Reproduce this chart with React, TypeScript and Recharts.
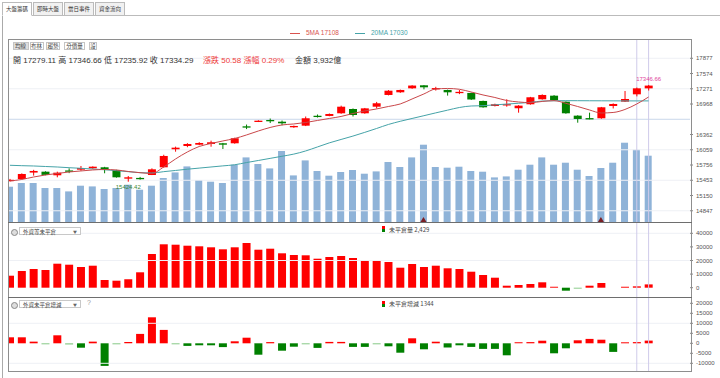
import React from "react";
import { Bar, Cell, ComposedChart, Line, ReferenceLine, XAxis, YAxis } from "recharts";

// daily index candles (visible window), 3 empty slots on the right
const opens = [15440, 15478, 15606, 15624, 15552, 15648, 15664, 15691, 15711, 15657, 15485, 15500, 15558, 15711, 16069, 16134, 16160, 16174, 16188, 16188, 16525, 16617, 16651, 16617, 16506, 16538, 16735, 16731, 16784, 16869, 16784, 16915, 17148, 17201, 17280, 17340, 17275, 17247, 17185, 17188, 17029, 16929, 16945, 16884, 16963, 17062, 17134, 17015, 16737, 16688, 16685, 16929, 17015, 17161, 17279.11];
const highs = [15480, 15590, 15660, 15632, 15624, 15690, 15737, 15730, 15720, 15662, 15538, 15520, 15690, 15960, 16121, 16190, 16210, 16240, 16195, 16300, 16560, 16645, 16680, 16640, 16540, 16720, 16760, 16780, 16935, 16880, 16890, 17010, 17245, 17255, 17342, 17345, 17310, 17255, 17245, 17195, 17035, 16975, 17062, 16945, 17110, 17160, 17145, 17020, 16745, 16796, 16910, 16980, 17227, 17295, 17346.66];
const lows = [15430, 15470, 15545, 15552, 15512, 15595, 15640, 15680, 15592, 15505, 15424.42, 15465, 15556, 15705, 16021, 16110, 16150, 16120, 16075, 16180, 16470, 16610, 16590, 16545, 16495, 16530, 16700, 16725, 16775, 16720, 16775, 16880, 17140, 17190, 17270, 17260, 17235, 17135, 17165, 17050, 16895, 16920, 16915, 16796, 16955, 17055, 17030, 16775, 16597, 16665, 16675, 16880, 17010, 17120, 17235.92];
const closes = [15462, 15578, 15638, 15560, 15604, 15640, 15697, 15723, 15657, 15512, 15512, 15490, 15671, 15936, 16101, 16174, 16194, 16208, 16160, 16288, 16512, 16637, 16631, 16585, 16532, 16685, 16728, 16770, 16915, 16750, 16882, 16983, 17233, 17247, 17335, 17300, 17285, 17201, 17210, 17058, 16903, 16963, 16965, 16936, 17102, 17148, 17048, 16784, 16671, 16682, 16903, 16969, 17068, 17280, 17334.29];
const ma5 = [15439, 15469, 15518, 15558, 15588, 15618, 15638, 15658, 15667, 15658, 15628, 15604, 15588, 15717, 15876, 16015, 16124, 16184, 16234, 16283, 16353, 16432, 16502, 16552, 16572, 16601, 16641, 16681, 16721, 16780, 16830, 16870, 16919, 16969, 17068, 17168, 17267, 17277, 17261, 17207, 17148, 17098, 17038, 17009, 16995, 17019, 17035, 16983, 16919, 16850, 16790, 16800, 16860, 16969, 17108];
const ma20 = [15751, 15743, 15737, 15727, 15717, 15703, 15691, 15677, 15663, 15644, 15624, 15604, 15598, 15624, 15648, 15673, 15695, 15717, 15739, 15761, 15805, 15846, 15888, 15930, 15973, 16035, 16115, 16196, 16264, 16331, 16405, 16482, 16562, 16625, 16681, 16736, 16792, 16846, 16899, 16929, 16935, 16951, 16967, 16983, 17001, 17027, 17033, 17035, 17034, 17033, 17032, 17031, 17030, 17030, 17030];
// 成交金額 (億)
const amount = [2093, 2313, 2313, 2016, 2016, 1815, 2153, 2111, 1957, 2016, 2212, 1915, 2153, 2609, 2941, 3297, 2491, 2390, 2313, 3398, 3831, 3439, 3178, 4210, 2763, 3653, 3024, 2746, 2965, 3084, 2864, 3001, 3558, 3262, 3831, 4584, 3262, 3220, 3279, 3024, 2983, 2645, 2704, 3101, 3398, 3831, 3398, 3516, 3101, 2728, 3202, 3516, 4702, 4287, 3932];
// 外資未平倉量 / 增減
const openInterest = [8824, 12279, 13750, 13015, 17647, 16912, 15221, 16176, 5662, 5147, 6176, 11324, 24779, 31912, 31618, 30882, 30441, 29706, 28235, 29706, 32868, 27941, 28676, 25294, 24044, 23824, 21324, 22574, 23309, 21838, 20368, 19853, 18897, 14706, 17426, 15221, 16176, 14265, 13750, 11765, 9338, 7353, 1471, 1985, 2721, 3971, 700, -2200, -700, 1471, 3456, 0, 700, 1000, 2429];
const oiChange = [3000, 3000, 830, -500, 4000, -600, -2200, 830, -11300, -500, 600, 4700, 13000, 6700, -500, -1300, -1000, -1000, -1900, 1000, 2800, -5700, 600, -3700, -1700, -500, -2300, 700, 700, -1800, -1800, -500, -1500, -4700, 2500, -3000, 800, -2100, -1000, -1800, -2800, -2800, -6000, 500, 600, 1300, -5000, -2500, 1500, 2200, 1800, -4300, 500, 600, 1344];
const signalDays = [35, 50];
const blankSlots = 3;

const priceTicks = [14847, 15150, 15453, 15756, 16059, 16362, 16968, 17271, 17574, 17877];
const priceGrid = [14847, 15453, 16059, 17271, 17877];
const priceLevel = 16665;
const oiTicks = [0, 10000, 20000, 30000, 40000];
const chgTicks = [-10000, -5000, 0, 5000, 10000, 15000, 20000];
const markedDays = [53, 54];

const rows = Array.from({ length: closes.length + blankSlots }, (_, i) => ({
  i,
  o: opens[i],
  h: highs[i],
  l: lows[i],
  c: closes[i],
  ma5: ma5[i],
  ma20: ma20[i],
  amt: amount[i],
  oi: openInterest[i],
  chg: oiChange[i],
  sig: signalDays.includes(i),
}));

const hiIdx = highs.indexOf(Math.max(...highs));
const loIdx = lows.indexOf(Math.min(...lows));

const RED = "#ff0000";
const GREEN = "#008000";
const PALE_GREEN = "#86c986";
const VOL = "#8fb3d8";
const MARK = "#cfcbea";
const FONT = '"Liberation Sans", "Noto Sans CJK TC", sans-serif';
const CJK = '"Noto Sans CJK TC", sans-serif';

const CW = 716;
const axisTick = { fontSize: 6, fill: "#555", fontFamily: FONT };

function barColor(v: number) {
  if (v >= 0) return RED;
  return v > -800 ? PALE_GREEN : GREEN;
}

function Candle(props: any) {
  const { x, y, width, height, payload } = props;
  if (!payload || payload.h == null) return <g />;
  const { o, h, l, c } = payload;
  const top = Math.min(y, y + height);
  const span = Math.abs(height);
  const k = h > l ? span / (h - l) : 0;
  const color = c >= o ? RED : GREEN;
  const bTop = top + (h - Math.max(o, c)) * k;
  const bH = Math.max(Math.abs(o - c) * k, 1.3);
  const cx = x + width / 2;
  return (
    <g>
      <line x1={cx} x2={cx} y1={top} y2={top + span} stroke={color} strokeWidth={1} />
      <rect x={x} y={bTop} width={width} height={bH} fill={color} />
      {payload.i === hiIdx && (
        <text x={cx} y={top - 4} textAnchor="middle" fontSize={6} fill="#e0459c" fontFamily={FONT}>
          {h.toFixed(2)}
        </text>
      )}
      {payload.i === loIdx && (
        <text x={cx} y={top + span + 7} textAnchor="middle" fontSize={6} fill="#3a8a3a" fontFamily={FONT}>
          {l.toFixed(2)}
        </text>
      )}
    </g>
  );
}

function AmountBar(props: any) {
  const { x, y, width, height, payload } = props;
  const cx = x + width / 2;
  const base = y + height;
  return (
    <g>
      <rect x={x} y={y} width={width} height={height} fill={VOL} />
      {payload && payload.sig && <path d={`M${cx - 3},${base} L${cx + 3},${base} L${cx},${base - 5} Z`} fill="#7a1f24" />}
    </g>
  );
}

function Dropdown({ top, text, help }: { top: number; text: string; help?: boolean }) {
  return (
    <>
      <div style={{ position: "absolute", left: 11, top: top + 1.5, width: 5, height: 5, borderRadius: 4, border: "1px solid #888", background: "#ddd" }} />
      <div style={{ position: "absolute", left: 19, top, width: 62, height: 8, border: "1px solid #c8c8c8", background: "#fff", fontFamily: CJK, fontSize: 5.5, lineHeight: "8px", color: "#444", paddingLeft: 3, boxSizing: "border-box" }}>
        {text}
        <span style={{ position: "absolute", right: 3, top: 0, fontSize: 4, color: "#666" }}>▼</span>
      </div>
      {help && <div style={{ position: "absolute", left: 87, top: top - 1, fontFamily: FONT, fontSize: 7, color: "#999" }}>?</div>}
    </>
  );
}

function PanelLegend({ top, text }: { top: number; text: string }) {
  return (
    <>
      <div style={{ position: "absolute", left: 382, top, width: 3, height: 3, background: RED }} />
      <div style={{ position: "absolute", left: 382, top: top + 3, width: 3, height: 3, background: GREEN }} />
      <div style={{ position: "absolute", left: 389, top: top - 1.5, fontFamily: CJK, fontSize: 6, color: "#444", whiteSpace: "nowrap" }}>{text}</div>
    </>
  );
}

const tabs = ["大盤籌碼", "即時大盤", "當日事件", "資金流向"];
const buttons = [
  { t: "均線", l: 12.5, w: 16 },
  { t: "布林", l: 29.5, w: 14 },
  { t: "趨勢", l: 46, w: 14 },
  { t: "分價量", l: 64, w: 21 },
  { t: "設", l: 89, w: 8 },
];

export default function App() {
  const chartBox = (top: number, h: number, child: React.ReactNode) => (
    <div style={{ position: "absolute", left: 9, top, width: 711, height: h, overflow: "hidden" }}>
      <div style={{ position: "absolute", left: -5, top: 0 }}>{child}</div>
    </div>
  );

  return (
    <div style={{ position: "absolute", left: 0, top: 0, width: 720, height: 378, background: "#fff", overflow: "hidden", fontFamily: FONT }}>
      {/* tabs */}
      {tabs.map((t, k) => (
        <div
          key={t}
          style={{
            position: "absolute",
            left: 2 + k * 31,
            top: 2,
            width: 30,
            height: 14,
            boxSizing: "border-box",
            border: "1px solid #bbb",
            borderBottom: k === 0 ? "1px solid #fff" : "1px solid #bbb",
            background: k === 0 ? "#fff" : "#f1f1f1",
            fontFamily: CJK,
            fontSize: 5.5,
            lineHeight: "12px",
            textAlign: "center",
            color: "#333",
            zIndex: 2,
          }}
        >
          {t}
        </div>
      ))}
      <div style={{ position: "absolute", left: 2, top: 15, width: 718, height: 1, background: "#bbb" }} />
      <div style={{ position: "absolute", left: 2, top: 16, width: 1, height: 362, background: "#aaa" }} />

      {/* MA legend */}
      <div style={{ position: "absolute", left: 290, top: 32.5, width: 10, height: 1, background: "#d9534f" }} />
      <div style={{ position: "absolute", left: 306, top: 29, fontSize: 6.5, color: "#d9534f", whiteSpace: "nowrap" }}>5MA 17108</div>
      <div style={{ position: "absolute", left: 355, top: 32.5, width: 10, height: 1, background: "#45a3a8" }} />
      <div style={{ position: "absolute", left: 371, top: 29, fontSize: 6.5, color: "#45a3a8", whiteSpace: "nowrap" }}>20MA 17030</div>

      {/* main price chart: amount bars behind, candles on top */}
      {chartBox(
        40,
        182,
        <div style={{ position: "relative", width: CW, height: 183 }}>
          <div style={{ position: "absolute", left: 0, top: -1 }}>
            <ComposedChart width={CW} height={183} data={rows} margin={{ top: 0, right: 30, bottom: 0, left: 0 }}>
              <XAxis dataKey="i" type="category" hide />
              <YAxis yAxisId="p" hide domain={[14624, 18260]} allowDataOverflow />
              <YAxis yAxisId="v" hide domain={[0, 10853]} allowDataOverflow />
              {priceGrid.map((g) => (
                <ReferenceLine key={g} yAxisId="p" y={g} stroke="#eef0f5" strokeWidth={1} />
              ))}
              <ReferenceLine yAxisId="p" y={priceLevel} stroke="#c9d7ea" strokeWidth={1} />
              {markedDays.map((d) => (
                <ReferenceLine key={d} yAxisId="p" x={d} stroke={MARK} strokeWidth={1} />
              ))}
              <Bar yAxisId="v" dataKey="amt" barSize={7} shape={AmountBar} isAnimationActive={false} />
            </ComposedChart>
          </div>
          <div style={{ position: "absolute", left: 0, top: -1 }}>
            <ComposedChart width={CW} height={183} data={rows} margin={{ top: 0, right: 0, bottom: 0, left: 0 }}>
              <XAxis dataKey="i" type="category" hide />
              <YAxis
                yAxisId="p"
                orientation="right"
                width={30}
                domain={[14624, 18260]}
                allowDataOverflow
                ticks={priceTicks}
                interval={0}
                axisLine={false}
                tickSize={3}
                tickMargin={3}
                tickLine={{ stroke: "#888" }}
                tick={axisTick}
              />
              <Line yAxisId="p" type="monotone" dataKey="ma20" stroke="#45a3a8" strokeWidth={1} dot={false} isAnimationActive={false} />
              <Line yAxisId="p" type="monotone" dataKey="ma5" stroke="#c9474a" strokeWidth={1} dot={false} isAnimationActive={false} />
              <Bar yAxisId="p" dataKey={(d: any) => (d.h == null ? null : [d.l, d.h])} barSize={8} shape={Candle} isAnimationActive={false} />
            </ComposedChart>
          </div>
        </div>
      )}

      {/* open interest */}
      {chartBox(
        223,
        74,
        <div style={{ position: "absolute", left: 0, top: -1 }}>
          <ComposedChart width={CW} height={75} data={rows} margin={{ top: 0, right: 0, bottom: 0, left: 0 }}>
            <XAxis dataKey="i" type="category" hide />
            <YAxis
              orientation="right"
              width={30}
              domain={[-6838, 48309]}
              allowDataOverflow
              ticks={oiTicks}
              interval={0}
              axisLine={false}
              tickSize={3}
              tickMargin={3}
              tickLine={{ stroke: "#888" }}
              tick={axisTick}
            />
            <ReferenceLine y={20000} stroke="#eef0f5" />
            <ReferenceLine y={40000} stroke="#eef0f5" />
            {markedDays.map((d) => (
              <ReferenceLine key={d} x={d} stroke={MARK} strokeWidth={1} />
            ))}
            <Bar dataKey="oi" barSize={8} isAnimationActive={false}>
              {rows.map((r) => (
                <Cell key={r.i} fill={barColor(r.oi ?? 0)} />
              ))}
            </Bar>
          </ComposedChart>
        </div>
      )}

      {/* open interest change */}
      {chartBox(
        298,
        73,
        <div style={{ position: "absolute", left: 0, top: -1 }}>
          <ComposedChart width={CW} height={75} data={rows} margin={{ top: 0, right: 0, bottom: 0, left: 0 }}>
            <XAxis dataKey="i" type="category" hide />
            <YAxis
              orientation="right"
              width={30}
              domain={[-14350, 23150]}
              allowDataOverflow
              ticks={chgTicks}
              interval={0}
              axisLine={false}
              tickSize={3}
              tickMargin={3}
              tickLine={{ stroke: "#888" }}
              tick={axisTick}
            />
            <ReferenceLine y={10000} stroke="#eef0f5" />
            <ReferenceLine y={-10000} stroke="#eef0f5" />
            {markedDays.map((d) => (
              <ReferenceLine key={d} x={d} stroke={MARK} strokeWidth={1} />
            ))}
            <Bar dataKey="chg" barSize={8} isAnimationActive={false}>
              {rows.map((r) => (
                <Cell key={r.i} fill={barColor(r.chg ?? 0)} />
              ))}
            </Bar>
          </ComposedChart>
        </div>
      )}

      {/* panel frame */}
      <div style={{ position: "absolute", left: 8, top: 39, width: 684, height: 333, boxSizing: "border-box", border: "1px solid #8e8e8e", pointerEvents: "none" }} />
      <div style={{ position: "absolute", left: 8, top: 222, width: 684, height: 1, background: "#6e6e6e" }} />
      <div style={{ position: "absolute", left: 8, top: 297, width: 684, height: 1, background: "#6e6e6e" }} />

      {/* toolbar + quote line */}
      {buttons.map((b, k) => (
        <div
          key={b.t}
          style={{
            position: "absolute",
            left: b.l,
            top: 41.5,
            width: b.w,
            height: 8,
            boxSizing: "border-box",
            border: "1px solid #c4c4c4",
            background: k === 0 ? "#dedede" : "#fff",
            fontFamily: CJK,
            fontSize: 5.5,
            lineHeight: "6px",
            textAlign: "center",
            color: "#444",
          }}
        >
          {b.t}
        </div>
      ))}
      <div style={{ position: "absolute", left: 13, top: 53.5, fontSize: 8, color: "#333", whiteSpace: "nowrap" }}>
        開 17279.11 高 17346.66 低 17235.92 收 17334.29
      </div>
      <div style={{ position: "absolute", left: 203, top: 53.5, fontSize: 8, color: "#ee3b3b", whiteSpace: "nowrap" }}>
        漲跌 50.58 漲幅 0.29%
      </div>
      <div style={{ position: "absolute", left: 295, top: 53.5, fontSize: 8, color: "#333", whiteSpace: "nowrap" }}>金額 3,932億</div>

      <Dropdown top={227} text="外資等未平倉" />
      <PanelLegend top={226} text="未平倉量 2,429" />
      <Dropdown top={300} text="外資未平倉增減" help />
      <PanelLegend top={300.5} text="未平倉增減 1344" />
    </div>
  );
}
